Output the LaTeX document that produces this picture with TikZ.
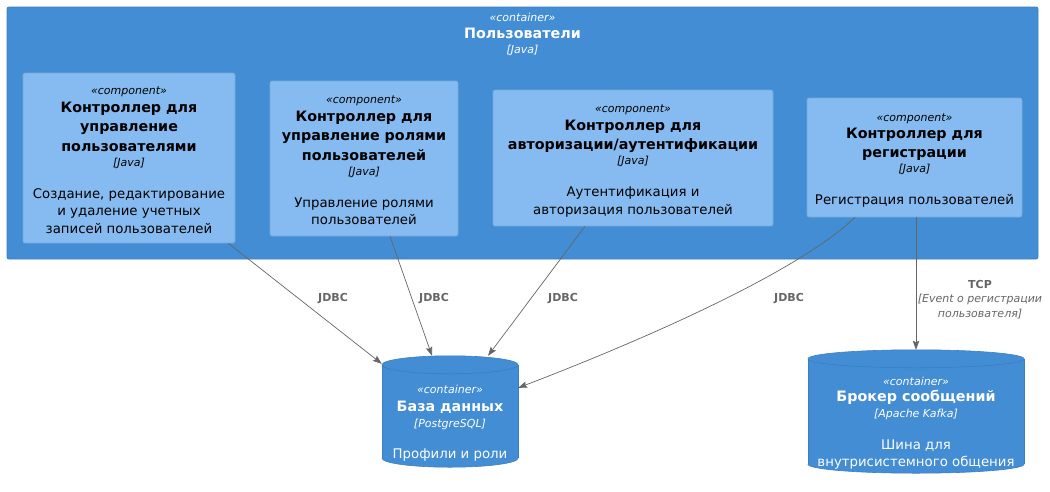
\documentclass[tikz,border=0pt]{standalone}
\usepackage{fontspec}
\setmainfont{DejaVu Sans}
\usetikzlibrary{arrows.meta,calc}
\pgfdeclarelayer{background}
\pgfsetlayers{background,main}
\definecolor{contblue}{HTML}{438DD5}
\definecolor{contedge}{HTML}{3C7FC0}
\definecolor{compblue}{HTML}{85BBF0}
\definecolor{compedge}{HTML}{78A8D8}
\definecolor{relgray}{HTML}{666666}
% line fonts (each line of an aligned node is its own group)
\newcommand\Lst{\fontsize{11}{0}\selectfont\itshape}
\newcommand\Lti{\fontsize{14.3}{0}\selectfont\bfseries}
\newcommand\Lde{\fontsize{13.3}{0}\selectfont}
\newcommand\Llb{\fontsize{11}{0}\selectfont\bfseries}
\newcommand\tightlines{\fontsize{10}{0}\selectfont\lineskiplimit-1000pt\relax}
\newcommand\topsp[1]{\rule{0pt}{#1pt}}
\newcommand\cylbg[3]{%
\begin{pgfonlayer}{background}
\fill[contblue] ($(#1.north west)+(0,-#3)$) rectangle ($(#1.south east)+(0,-#3)$);
\fill[contblue] ($(#1.north)+(0,-#3)$) ellipse[x radius=#2, y radius=#3];
\fill[contblue] ($(#1.south)+(0,-#3)$) ellipse[x radius=#2, y radius=#3];
\draw[contedge, line width=0.6pt] ($(#1.north)+(0,-#3)$) ellipse[x radius=#2, y radius=#3];
\draw[contedge, line width=0.6pt] ($(#1.north west)+(0,-#3)$) -- ($(#1.south west)+(0,-#3)$);
\draw[contedge, line width=0.6pt] ($(#1.north east)+(0,-#3)$) -- ($(#1.south east)+(0,-#3)$);
\begin{scope}
\clip ($(#1.south west)+(-2,-#3)$) rectangle ($(#1.south east)+(2,2)$);
\draw[contedge, line width=0.6pt] ($(#1.south)+(0,-#3)$) ellipse[x radius=#2, y radius=#3];
\end{scope}
\end{pgfonlayer}}

\begin{document}
\begin{tikzpicture}[x=1pt,y=-1pt,
  tight/.style={font=\tightlines},
  container/.style={rectangle, rounded corners=2pt, fill=contblue, draw=contedge, line width=0.8pt, inner sep=0pt},
  compbox/.style={tight, rectangle, rounded corners=2pt, fill=compblue, draw=compedge, line width=0.6pt, align=center, inner sep=0pt, text=black},
  cyltext/.style={tight, rectangle, inner sep=0pt, align=center, text=white},
  rel/.style={draw=relgray, line width=0.7pt, -{Stealth[length=9pt,width=6.5pt,inset=1.5pt]}},
  rellabel/.style={tight, text=relgray, align=center, inner sep=0pt},
]
\useasboundingbox (0,0) rectangle (1050,491);

% outer container
\node[container, minimum width=1031, minimum height=252] (users) at (522.5,133) {};
\node[cyltext, anchor=north] (usersT) at ($(users.north)+(0,6.5)$)
  {\Lst «container»\\[16.5pt]
   \Lti Пользователи\\[15pt]
   \Lst [Java]};

% components
\node[compbox, minimum width=212, minimum height=170] (c1) at (129,158)
  {\topsp{11.5}\Lst «component»\\[18pt]
   \Lti Контроллер для\\[19.5pt]
   \Lti управление\\[19.5pt]
   \Lti пользователями\\[15pt]
   \Lst [Java]\\[32pt]
   \Lde Создание, редактирование\\[17.5pt]
   \Lde и удаление учетных\\[17.5pt]
   \Lde записей пользователей};

\node[compbox, minimum width=188, minimum height=155] (c2) at (364,158.5)
  {\topsp{11.5}\Lst «component»\\[18pt]
   \Lti Контроллер для\\[19.5pt]
   \Lti управление ролями\\[19.5pt]
   \Lti пользователей\\[15pt]
   \Lst [Java]\\[32pt]
   \Lde Управление ролями\\[17.5pt]
   \Lde пользователей};

\node[compbox, minimum width=280, minimum height=136] (c3) at (633,158)
  {\topsp{13.5}\Lst «component»\\[18pt]
   \Lti Контроллер для\\[19.5pt]
   \Lti авторизации/аутентификации\\[15pt]
   \Lst [Java]\\[32pt]
   \Lde Аутентификация и\\[17.5pt]
   \Lde авторизация пользователей};

\node[compbox, minimum width=215, minimum height=119] (c4) at (914.5,157.5)
  {\topsp{13.5}\Lst «component»\\[17pt]
   \Lti Контроллер для\\[19.5pt]
   \Lti регистрации\\[15pt]
   \Lst [Java]\\[32pt]
   \Lde Регистрация пользователей};

% databases
\node[cyltext, minimum width=136, minimum height=93] (db) at (450,420.5)
  {\topsp{14.5}\Lst «container»\\[18pt]
   \Lti База данных\\[16pt]
   \Lst [PostgreSQL]\\[31pt]
   \Lde Профили и роли};
\cylbg{db}{68}{9}

\node[cyltext, minimum width=216, minimum height=105] (kk) at (916,420.5)
  {\topsp{14.5}\Lst «container»\\[16pt]
   \Lti Брокер сообщений\\[16pt]
   \Lst [Apache Kafka]\\[32pt]
   \Lde Шина для\\[17pt]
   \Lde внутрисистемного общения};
\cylbg{kk}{108}{9}

% connectors
\draw[rel] ($(c1.south east)+(-7,0)$) -- ($(db.north west)+(0,-10)$);
\draw[rel] ($(c2.south)+(26,0)$) -- ($(db.north)+(-18,-18)$);
\draw[rel] ($(c3.south)+(-48,0)$) -- ($(db.north)+(38,-18)$);
\draw[rel] ($(c4.south)+(-59.5,0)$) .. controls (795,275) and (630,345) .. ($(db.north east)+(0,14)$);
\draw[rel] (c4.south -| kk.north) -- ($(kk.north)+(0,-18)$);

% labels
\node[rellabel] (l1) at (333,299) {\Llb JDBC};
\node[rellabel] (l2) at (434,299) {\Llb JDBC};
\node[rellabel] (l3) at (563,299) {\Llb JDBC};
\node[rellabel] (l4) at (789,299) {\Llb JDBC};
\node[rellabel] (l5) at (980,299.5)
  {\Llb TCP\\[14.5pt]
   \Lst [Event о регистрации\\[15pt]
   \Lst пользователя]};
\end{tikzpicture}
\end{document}
